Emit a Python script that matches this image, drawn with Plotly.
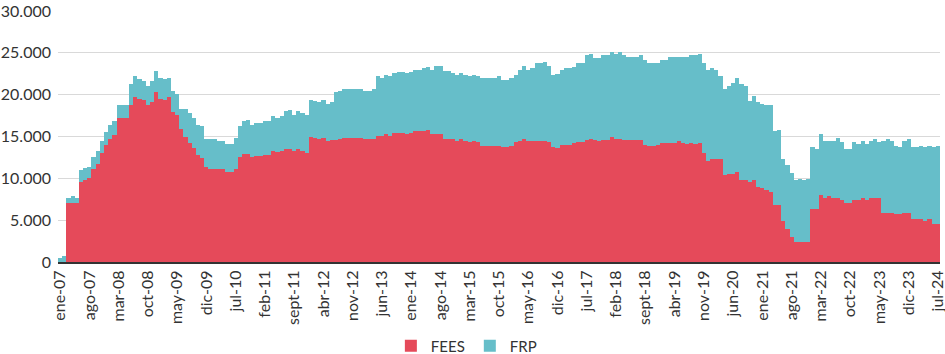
import plotly.graph_objects as go

MONTH_ABBR = ["ene", "feb", "mar", "abr", "may", "jun", "jul", "ago", "sept", "oct", "nov", "dic"]
START_YEAR = 2007
N_MONTHS = 211  # ene-07 .. jul-24

months = [f"{MONTH_ABBR[k % 12]}-{(START_YEAR + k // 12) % 100:02d}" for k in range(N_MONTHS)]
tick_labels = months[::7]

fees = [
    0, 0, 7100, 7100, 7100, 9580, 9820, 9990, 11150, 11750,
    13070, 14040, 14760, 15200, 17160, 17160, 17160, 18730, 19690, 19450,
    19330, 18730, 19090, 20290, 19490, 19330, 19690, 17920, 17560, 15840,
    15000, 14280, 13670, 12830, 12470, 11310, 11150, 11150, 11150, 11150,
    10790, 10790, 11150, 12510, 12870, 12870, 12510, 12710, 12710, 12830,
    12830, 13310, 13110, 13310, 13470, 13470, 13310, 13470, 13310, 13070,
    14900, 14850, 14650, 14850, 14490, 14610, 14530, 14650, 14850, 14850,
    14850, 14850, 14850, 14650, 14650, 14650, 15090, 15090, 15250, 15090,
    15440, 15440, 15440, 15250, 15440, 15640, 15640, 15640, 15800, 15250,
    15250, 15250, 14650, 14650, 14650, 14490, 14650, 14490, 14290, 14490,
    14290, 13900, 13900, 13900, 13900, 13900, 13700, 13700, 13900, 14290,
    14490, 14650, 14490, 14490, 14490, 14490, 14490, 14290, 13700, 13600,
    14020, 14020, 14020, 14220, 14380, 14380, 14620, 14740, 14620, 14420,
    14620, 14620, 14980, 14740, 14740, 14620, 14620, 14620, 14620, 14620,
    14020, 13820, 13820, 14020, 14220, 14220, 14220, 14220, 14420, 14220,
    14060, 14220, 14060, 14220, 13060, 12100, 12300, 12300, 12300, 10340,
    10540, 10540, 10740, 9770, 9770, 9570, 9770, 9010, 8810, 8610,
    8410, 6850, 6850, 4930, 3930, 2960, 2400, 2400, 2400, 2400,
    6310, 6310, 8040, 7680, 7840, 7680, 7680, 7440, 7080, 7080,
    7440, 7440, 7680, 7440, 7680, 7680, 7680, 5910, 5910, 5910,
    5710, 5710, 5910, 5910, 5150, 5150, 5150, 4940, 5150, 4580,
    4580,
]

frp = [
    520, 720, 600, 800, 600, 1420, 1370, 1360, 1400, 1560,
    1450, 1440, 1640, 1600, 1570, 1570, 1570, 2520, 2530, 2400,
    2320, 2320, 2520, 2530, 2520, 2520, 2360, 2570, 2530, 2490,
    3330, 3480, 3490, 3570, 3770, 3370, 3530, 3530, 3370, 3370,
    3330, 3330, 3730, 3690, 3970, 4130, 3890, 3930, 3930, 3970,
    3970, 4090, 4090, 4090, 4530, 4730, 4290, 4530, 4490, 4530,
    4500, 4450, 4520, 4480, 4450, 4520, 5760, 5840, 5790, 5790,
    5790, 5790, 5790, 5840, 5840, 5990, 7140, 6940, 7100, 7100,
    7110, 7310, 7310, 7340, 7310, 7310, 7310, 7540, 7540, 7700,
    8130, 8130, 8140, 8140, 7940, 7900, 7940, 7900, 7900, 7900,
    7900, 8090, 8090, 8090, 8090, 8290, 8100, 8100, 8090, 8100,
    8500, 8730, 8500, 8690, 9250, 9250, 9450, 9090, 8690, 8900,
    8970, 9130, 9130, 9130, 9370, 9370, 10100, 10180, 9740, 9940,
    10100, 10100, 10140, 10180, 10380, 10100, 9940, 9940, 9940, 10100,
    10140, 9930, 9930, 9730, 9940, 9940, 10340, 10340, 10140, 10340,
    10500, 10500, 10660, 10700, 10690, 10890, 10850, 10690, 9890, 10290,
    10490, 10890, 11250, 11460, 11260, 9700, 10100, 10060, 10100, 10100,
    10300, 8770, 8970, 7370, 7610, 7620, 7410, 7570, 7410, 7570,
    7400, 7200, 7240, 6830, 6670, 6830, 7190, 6870, 6430, 6430,
    6870, 6670, 6830, 6670, 6830, 6990, 6630, 8600, 8760, 8600,
    8200, 8000, 8600, 8760, 8560, 8560, 8760, 8770, 8760, 9130,
    9330,
]

RED = "#E54A5A"
TEAL = "#66BEC9"
FONT = "Lato"

fig = go.Figure()
fig.add_trace(go.Bar(x=months, y=fees, name="FEES", marker=dict(color=RED, line=dict(width=0))))
fig.add_trace(go.Bar(x=months, y=frp, name="FRP", marker=dict(color=TEAL, line=dict(width=0))))

fig.update_layout(
    barmode="stack",
    bargap=0,
    width=945,
    height=354,
    margin=dict(l=58, r=5, t=11, b=92, autoexpand=False),
    paper_bgcolor="white",
    plot_bgcolor="white",
    separators=",.",
    font=dict(family=FONT, size=15, color="#333333"),
    showlegend=True,
    legend=dict(
        orientation="h",
        x=0.463,
        xanchor="center",
        y=-0.335,
        yanchor="middle",
        font=dict(size=15, color="#333333"),
        itemwidth=30,
        traceorder="normal",
    ),
    xaxis=dict(
        type="category",
        categoryorder="array",
        categoryarray=months,
        tickmode="array",
        tickvals=tick_labels,
        ticktext=tick_labels,
        tickangle=-90,
        tickfont=dict(size=16, color="#333333"),
        showgrid=False,
        showline=True,
        linecolor="#333333",
        linewidth=2,
        ticks="",
        automargin=False,
        range=[-0.5, N_MONTHS - 0.5],
    ),
    yaxis=dict(
        range=[0, 30000],
        tickvals=[0, 5000, 10000, 15000, 20000, 25000, 30000],
        tickformat=",d",
        tickfont=dict(size=16, color="#333333"),
        showgrid=True,
        gridcolor="#d9d9d9",
        gridwidth=1,
        zeroline=False,
        showline=False,
        ticks="",
        automargin=False,
        ticklabelstandoff=6,
    ),
)

fig.write_html("out.html")
